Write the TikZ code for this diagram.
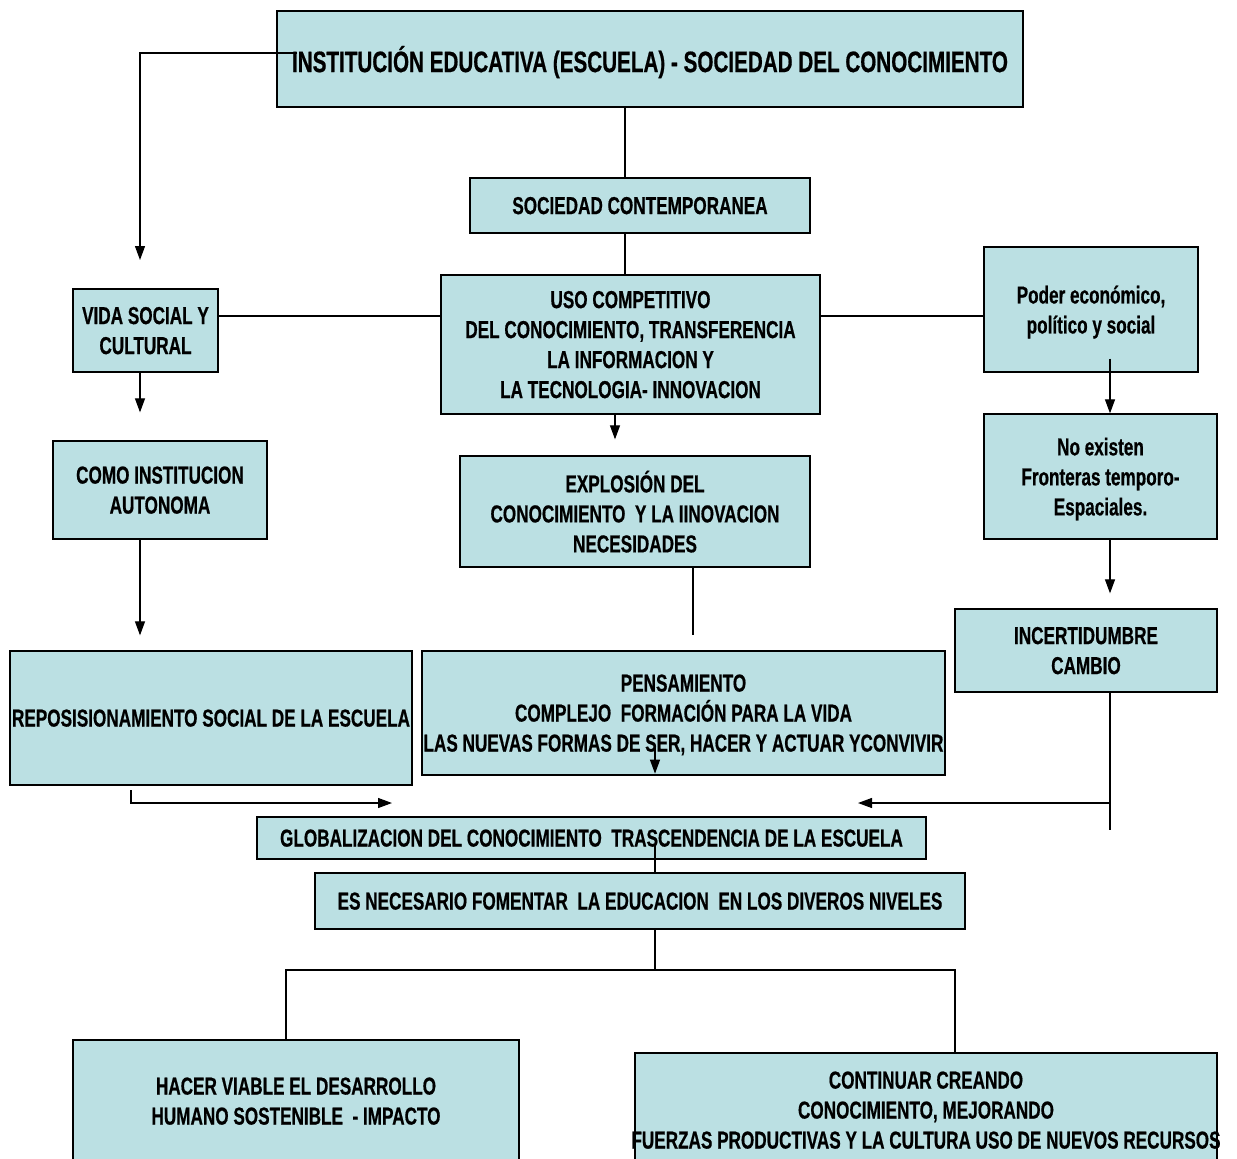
\documentclass[tikz,border=0pt]{standalone}
\usepackage{fontspec}
\newfontfamily\cajafont[FakeStretch=0.70,FakeBold=0.6]{Liberation Sans}
\usepackage{tikz}
\usetikzlibrary{arrows.meta}
\usepackage{xcolor}
\definecolor{celeste}{RGB}{187,224,227}

\begin{document}
\begin{tikzpicture}[x=1pt, y=-1pt, >={Triangle[width=10pt,length=14pt]},
    caja/.style={draw, line width=1.3pt, fill=celeste, inner sep=0pt, align=center, text depth=0pt,
        font=\cajafont\bfseries\fontsize{24.5}{30}\selectfont},
    linea/.style={line width=1.2pt}]
    \clip (0,0) rectangle (1237,1159);

    % titulo
    \node[caja, minimum width=746pt, minimum height=96pt,
        font=\cajafont\bfseries\fontsize{29.5}{34}\selectfont] (inst) at (650,59)
        {INSTITUCIÓN EDUCATIVA (ESCUELA) - SOCIEDAD DEL CONOCIMIENTO};

    % columna central
    \node[caja, minimum width=340pt, minimum height=55pt] (soc) at (640,205.5) {SOCIEDAD CONTEMPORANEA};
    \node[caja, minimum width=379pt, minimum height=139pt] (uso) at (630.5,344.5)
        {USO COMPETITIVO\\DEL CONOCIMIENTO, TRANSFERENCIA\\LA INFORMACION Y\\LA TECNOLOGIA- INNOVACION};
    \node[caja, minimum width=350pt, minimum height=111pt] (expl) at (635,511.5)
        {EXPLOSIÓN DEL\\CONOCIMIENTO\ \ Y LA IINOVACION\\NECESIDADES};
    \node[caja, minimum width=523pt, minimum height=124pt] (pens) at (683.5,713)
        {PENSAMIENTO\\COMPLEJO\ \ FORMACIÓN PARA LA VIDA\\LAS NUEVAS FORMAS DE SER, HACER Y ACTUAR YCONVIVIR};

    % columna izquierda
    \node[caja, minimum width=145pt, minimum height=83pt] (vida) at (145.5,330.5) {VIDA SOCIAL Y\\CULTURAL};
    \node[caja, minimum width=214pt, minimum height=98pt] (como) at (160,490) {COMO INSTITUCION\\AUTONOMA};
    \node[caja, minimum width=402pt, minimum height=134pt] (repos) at (211,718) {REPOSISIONAMIENTO SOCIAL DE LA ESCUELA};

    % columna derecha
    \node[caja, minimum width=214pt, minimum height=125pt] (poder) at (1091,309.5) {Poder económico,\\político y social};
    \node[caja, minimum width=233pt, minimum height=125pt] (noex) at (1100.5,476.5) {No existen\\Fronteras temporo-\\Espaciales.};
    \node[caja, minimum width=262pt, minimum height=83pt] (incert) at (1086,650.5) {INCERTIDUMBRE\\CAMBIO};

    % parte inferior
    \node[caja, minimum width=669pt, minimum height=42pt] (glob) at (591.5,838)
        {GLOBALIZACION DEL CONOCIMIENTO\ \ TRASCENDENCIA DE LA ESCUELA};
    \node[caja, minimum width=650pt, minimum height=56pt] (esnec) at (640,901)
        {ES NECESARIO FOMENTAR\ \ LA EDUCACION\ \ EN LOS DIVEROS NIVELES};
    \node[caja, minimum width=446pt, minimum height=122pt] (hacer) at (296,1101)
        {HACER VIABLE EL DESARROLLO\\HUMANO SOSTENIBLE\ \ - IMPACTO};
    \node[caja, minimum width=582pt, minimum height=114pt] (contin) at (926,1110)
        {CONTINUAR CREANDO\\CONOCIMIENTO, MEJORANDO\\\makebox[0pt]{FUERZAS PRODUCTIVAS Y LA CULTURA USO DE NUEVOS RECURSOS}};

    % puntos de apoyo
    \coordinate (cl) at (140,0);
    \coordinate (cc) at (625,0);
    \coordinate (cu) at (615,0);
    \coordinate (ce) at (693,0);
    \coordinate (cm) at (655,0);
    \coordinate (cr) at (1110,0);
    \coordinate (hz) at (0,316);
    \coordinate (t0) at (297,53);
    \coordinate (t1) at (140,260);
    \coordinate (r0) at (131,790);
    \coordinate (r1) at (392,803);
    \coordinate (j0) at (1110,803);
    \coordinate (j1) at (858,803);
    \coordinate (e0) at (1110,830);
    \coordinate (p0) at (655,746);
    \coordinate (g0) at (655,845);
    \coordinate (b0) at (655,970);
    \coordinate (bl) at (286,970);
    \coordinate (br) at (955,970);

    % conectores
    \draw[linea, ->] (t0) -| (t1);
    \draw[linea] (inst.south -| cc) -- (soc.north -| cc);
    \draw[linea] (soc.south -| cc) -- (uso.north -| cc);
    \draw[linea] (vida.east |- hz) -- (uso.west |- hz);
    \draw[linea] (uso.east |- hz) -- (poder.west |- hz);
    \draw[linea, ->, shorten >=28pt] (vida.south -| cl) -- (como.north -| cl);
    \draw[linea, ->, shorten >=15pt] (como.south -| cl) -- (repos.north -| cl);
    \draw[linea, ->, shorten >=16pt] (uso.south -| cu) -- (expl.north -| cu);
    \draw[linea, shorten >=15pt] (expl.south -| ce) -- (pens.north -| ce);
    \draw[linea, ->] ([yshift=14pt]poder.south -| cr) -- (noex.north -| cr);
    \draw[linea, ->, shorten >=15pt] (noex.south -| cr) -- (incert.north -| cr);
    \draw[linea] (incert.south -| cr) -- (e0);
    \draw[linea, ->] (j0) -- (j1);
    \draw[linea, ->] (r0) |- (r1);
    \draw[linea, ->, shorten >=2pt] (p0) -- (pens.south -| cm);
    \draw[linea] (g0) -- (esnec.north -| cm);
    \draw[linea] (esnec.south -| cm) -- (b0);
    \draw[linea] (hacer.north -| bl) -- (bl) -- (br) -- (contin.north -| br);
\end{tikzpicture}
\end{document}
